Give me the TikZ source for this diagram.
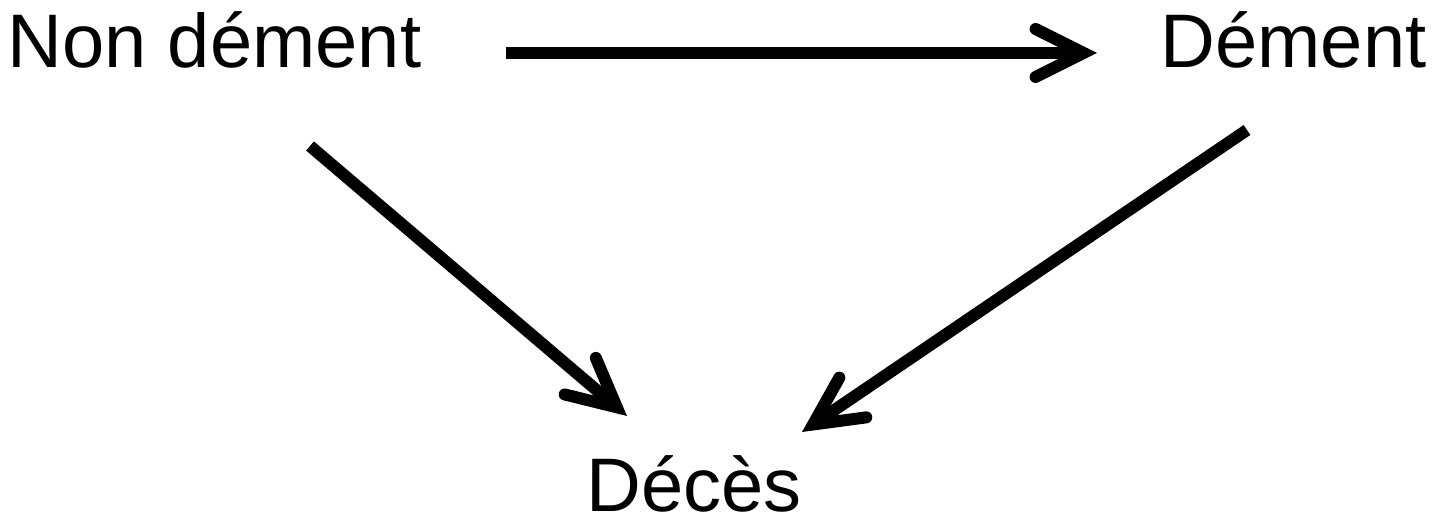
\documentclass[tikz,border=0pt]{standalone}
\usepackage{fontspec}
\setmainfont{Liberation Sans}
\usetikzlibrary{arrows.meta,calc}
\begin{document}
\begin{tikzpicture}[
  lbl/.style={anchor=base west, inner sep=0pt, font=\fontsize{21.6pt}{26pt}\selectfont},
  arr/.style={line width=0.12cm, -{Straight Barb[length=0.48cm, width=0.48cm, line cap=round, line join=miter]}}
]
\useasboundingbox[fill=white] (0,0) rectangle (14.41,-5.18);
\node[lbl] (nd) at (0.07,-0.68) {Non dément};
\node[lbl] (dm) at (11.60,-0.68) {Dément};
\node[lbl] (dc) at (5.86,-5.12) {Décès};
\draw[arr] ($(nd.base west)+(4.99,0.15)$) -- ($(dm.base west)+(-0.63,0.15)$);
\draw[arr] ($(nd.base west)+(3.03,-0.78)$) -- ($(dc.base west)+(0.41,0.96)$);
\draw[arr] ($(dm.base west)+(0.87,-0.62)$) -- ($(dc.base west)+(2.16,0.80)$);
\end{tikzpicture}
\end{document}
